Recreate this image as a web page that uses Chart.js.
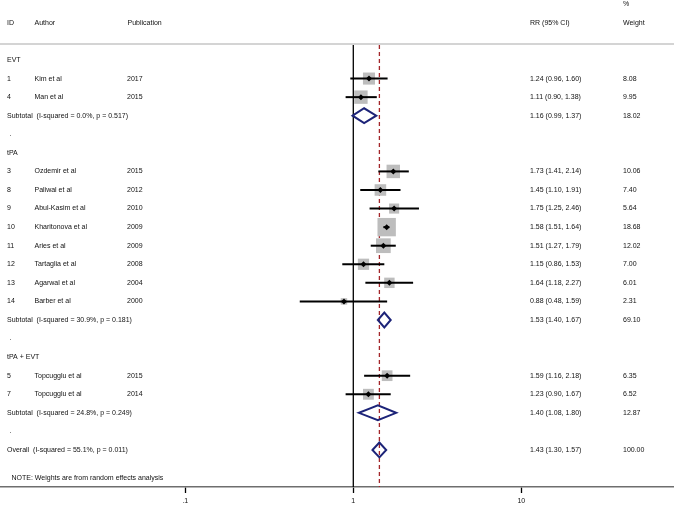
<!DOCTYPE html>
<html>
<head>
<meta charset="utf-8">
<script src="https://cdn.jsdelivr.net/npm/chart.js@4"></script>
<style>
  html, body { margin: 0; padding: 0; background: #fff; }
  #wrap { width: 674px; height: 506px; }
</style>
</head>
<body>
<div id="wrap"><canvas id="forestPlot"></canvas></div>
<script>
// ---------------- data -------------------
const groupNames = ['EVT', 'tPA', 'tPA + EVT'];

const studyIds = ['1', '4', '3', '8', '9', '10', '11', '12', '13', '14', '5', '7'];
const authors = ['Kim et al', 'Man et al', 'Ozdemir et al', 'Paliwal et al', 'Abul-Kasim et al',
    'Kharitonova et al', 'Aries et al', 'Tartaglia et al', 'Agarwal et al', 'Barber et al',
    'Topcugglu et al', 'Topcugglu et al'];
const years = ['2017', '2015', '2015', '2012', '2010', '2009', '2009', '2008', '2004', '2000', '2015', '2014'];
const studyGroup = [0, 0, 1, 1, 1, 1, 1, 1, 1, 1, 2, 2];

const rr     = [1.24, 1.11, 1.73, 1.45, 1.75, 1.58, 1.51, 1.15, 1.64, 0.88, 1.59, 1.23];
const ciLow  = [0.96, 0.90, 1.41, 1.10, 1.25, 1.51, 1.27, 0.86, 1.18, 0.48, 1.16, 0.90];
const ciHigh = [1.60, 1.38, 2.14, 1.91, 2.46, 1.64, 1.79, 1.53, 2.27, 1.59, 2.18, 1.67];
const weights = [8.08, 9.95, 10.06, 7.40, 5.64, 18.68, 12.02, 7.00, 6.01, 2.31, 6.35, 6.52];

const subtotalLabels = [
    'Subtotal  (I-squared = 0.0%, p = 0.517)',
    'Subtotal  (I-squared = 30.9%, p = 0.181)',
    'Subtotal  (I-squared = 24.8%, p = 0.249)'
];
const subtotalRR   = [1.16, 1.53, 1.40];
const subtotalLow  = [0.99, 1.40, 1.08];
const subtotalHigh = [1.37, 1.67, 1.80];
const subtotalWeight = [18.02, 69.10, 12.87];

const overallLabel = 'Overall  (I-squared = 55.1%, p = 0.011)';
const overallRR = 1.43;
const overallLow = 1.30;
const overallHigh = 1.57;
const overallWeight = 100.00;

const noteText = 'NOTE: Weights are from random effects analysis';

const tickValues = [0.1, 1, 10];
const tickLabels = ['.1', '1', '10'];

// ---------------- layout -------------------
const FONT = '7px "Liberation Sans", Arial, Helvetica, sans-serif';
const X_MIN = 0.007888;
const X_MAX = 81.1;
const Y_MIN = -3.231;
const Y_MAX = 22.994;
const LINE_TOP_ROW = -0.81;
const HEADER_RULE_ROW = -0.86;
const DIAMOND_H = 0.4;

// row numbers for every line of the table
let row = 0;
const studyRow = [];
const headerRows = [], subtotalRows = [], dotRows = [];
groupNames.forEach(function(name, g) {
    headerRows.push(row); row++;
    studyGroup.forEach(function(sg, i) {
        if (sg === g) { studyRow[i] = row; row++; }
    });
    subtotalRows.push(row); row++;
    dotRows.push(row); row++;
});
const overallRow = row;
const noteRow = overallRow + 1.53;

function fmtCI(est, lo, hi) {
    return est.toFixed(2) + ' (' + lo.toFixed(2) + ', ' + hi.toFixed(2) + ')';
}

function diamond(est, lo, hi, r) {
    return [
        {x: lo, y: r}, {x: est, y: r - DIAMOND_H}, {x: hi, y: r},
        {x: est, y: r + DIAMOND_H}, {x: lo, y: r}, {x: est, y: r - DIAMOND_H}
    ];
}

// ---------------- datasets -------------------
const datasets = [];

// no-effect line and overall estimate line
datasets.push({
    data: [{x: 1, y: LINE_TOP_ROW}, {x: 1, y: Y_MAX}],
    showLine: true, borderColor: '#000', borderWidth: 1.3, pointRadius: 0, order: 10
});
datasets.push({
    data: [{x: overallRR, y: LINE_TOP_ROW}, {x: overallRR, y: Y_MAX}],
    showLine: true, borderColor: '#a3262a', borderWidth: 1.3, borderDash: [4, 3],
    pointRadius: 0, order: 9
});

// weight boxes
datasets.push({
    data: rr.map(function(v, i) { return {x: v, y: studyRow[i]}; }),
    pointStyle: 'rect',
    pointRadius: weights.map(function(w) { return 4.25 * Math.sqrt(w) / Math.SQRT2; }),
    backgroundColor: '#bdbdbd', borderWidth: 0, order: 8
});

// confidence intervals
rr.forEach(function(v, i) {
    datasets.push({
        data: [{x: ciLow[i], y: studyRow[i]}, {x: ciHigh[i], y: studyRow[i]}],
        showLine: true, borderColor: '#000', borderWidth: 2, pointRadius: 0, order: 7
    });
});

// point estimates
datasets.push({
    data: rr.map(function(v, i) { return {x: v, y: studyRow[i]}; }),
    pointStyle: 'rectRot', pointRadius: 3,
    backgroundColor: '#000', borderWidth: 0, order: 6
});

// pooled diamonds
subtotalRR.forEach(function(v, g) {
    datasets.push({
        data: diamond(v, subtotalLow[g], subtotalHigh[g], subtotalRows[g]),
        showLine: true, borderColor: '#1c2378', borderWidth: 2, pointRadius: 0, order: 5
    });
});
datasets.push({
    data: diamond(overallRR, overallLow, overallHigh, overallRow),
    showLine: true, borderColor: '#1c2378', borderWidth: 2, pointRadius: 0, order: 5
});

// ---------------- table text -------------------
const tablePlugin = {
    id: 'forestTable',
    afterDatasetsDraw(chart) {
        const ctx = chart.ctx;
        const area = chart.chartArea;
        const py = function(r) { return chart.scales.y.getPixelForValue(r); };

        ctx.save();
        // header rule
        ctx.strokeStyle = '#c6c6c6';
        ctx.lineWidth = 1.5;
        ctx.beginPath();
        ctx.moveTo(area.left, py(HEADER_RULE_ROW));
        ctx.lineTo(area.right, py(HEADER_RULE_ROW));
        ctx.stroke();

        ctx.font = FONT;
        ctx.fillStyle = '#111';
        ctx.textBaseline = 'middle';
        ctx.textAlign = 'left';

        ctx.fillText('%', 623, py(-3));
        ctx.fillText('ID', 7, py(-2));
        ctx.fillText('Author', 34.5, py(-2));
        ctx.fillText('Publication', 127.5, py(-2));
        ctx.fillText('RR (95% CI)', 530, py(-2));
        ctx.fillText('Weight', 623, py(-2));

        groupNames.forEach(function(name, g) {
            ctx.fillText(name, 7, py(headerRows[g]));
            ctx.fillText(subtotalLabels[g], 7, py(subtotalRows[g]));
            ctx.fillText(fmtCI(subtotalRR[g], subtotalLow[g], subtotalHigh[g]), 530, py(subtotalRows[g]));
            ctx.fillText(subtotalWeight[g].toFixed(2), 623, py(subtotalRows[g]));
            ctx.fillText('.', 9.5, py(dotRows[g]));
        });

        rr.forEach(function(v, i) {
            const y = py(studyRow[i]);
            ctx.fillText(studyIds[i], 7, y);
            ctx.fillText(authors[i], 34.5, y);
            ctx.fillText(years[i], 127, y);
            ctx.fillText(fmtCI(v, ciLow[i], ciHigh[i]), 530, y);
            ctx.fillText(weights[i].toFixed(2), 623, y);
        });

        ctx.fillText(overallLabel, 7, py(overallRow));
        ctx.fillText(fmtCI(overallRR, overallLow, overallHigh), 530, py(overallRow));
        ctx.fillText(overallWeight.toFixed(2), 623, py(overallRow));
        ctx.fillText(noteText, 11.5, py(noteRow));
        ctx.restore();
    }
};

// ---------------- chart -------------------
new Chart(document.getElementById('forestPlot'), {
    type: 'scatter',
    data: { datasets: datasets },
    plugins: [tablePlugin],
    options: {
        responsive: true,
        maintainAspectRatio: false,
        animation: false,
        events: [],
        layout: { padding: 0, autoPadding: false },
        plugins: {
            legend: { display: false },
            tooltip: { enabled: false }
        },
        scales: {
            x: {
                type: 'logarithmic',
                min: X_MIN,
                max: X_MAX,
                afterBuildTicks: function(scale) {
                    scale.ticks = tickValues.map(function(v) { return {value: v}; });
                },
                afterFit: function(scale) {
                    scale.height = 19;
                },
                ticks: {
                    autoSkip: false,
                    maxRotation: 0,
                    padding: 4,
                    color: '#111',
                    font: { family: '"Liberation Sans", Arial, sans-serif', size: 7 },
                    callback: function(value, index) {
                        return tickLabels[index];
                    }
                },
                grid: {
                    drawOnChartArea: false,
                    tickLength: 6,
                    tickColor: '#000',
                    tickWidth: 1.3
                },
                border: { color: '#6e6e6e', width: 1.5 }
            },
            y: {
                type: 'linear',
                reverse: true,
                min: Y_MIN,
                max: Y_MAX,
                display: false
            }
        }
    }
});
</script>
</body>
</html>
